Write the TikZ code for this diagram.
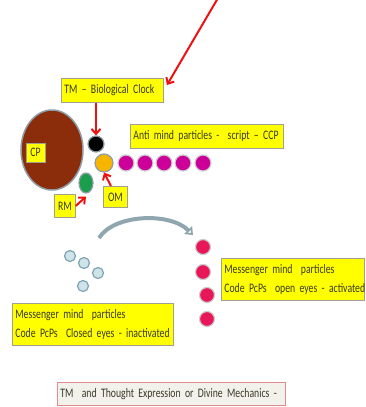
\documentclass[tikz,border=0pt]{standalone}
\usepackage{fontspec}
\setmainfont{Carlito}[FakeStretch=0.75]
\usetikzlibrary{arrows.meta,shapes.geometric}
\newcommand\myboxfontA{\fontsize{13}{15}\selectfont\spaceskip 2.2pt plus 1pt minus 0.5pt\relax}
\newcommand\myboxfontB{\fontsize{13}{19}\selectfont\spaceskip 2.2pt plus 1pt minus 0.5pt\relax}
\definecolor{boxy}{HTML}{FFFF00}
\definecolor{boxline}{HTML}{A0A090}
\definecolor{txt}{HTML}{3A3A28}
\definecolor{redar}{HTML}{EE1111}
\definecolor{cpbrown}{HTML}{8B2C0A}
\definecolor{ringgray}{HTML}{8E9CA6}
\definecolor{magen}{HTML}{CC0099}
\definecolor{crim}{HTML}{E8175A}
\definecolor{lblue}{HTML}{CFE3EA}
\definecolor{lblueline}{HTML}{7FA3B0}
\definecolor{curvegray}{HTML}{8FA6AF}
\definecolor{orng}{HTML}{F7B500}
\definecolor{grn}{HTML}{1A9E4E}
\definecolor{beige}{HTML}{F3F1EC}
\definecolor{pinkline}{HTML}{E08C8C}
\tikzset{
  ybox/.style={draw=boxline, line width=0.8pt, fill=boxy, text=txt, anchor=north west,
    inner xsep=3pt, inner ysep=2pt, align=left, font=\myboxfontA},
  ybox2/.style={ybox, font=\myboxfontB},
  redarrow/.style={draw=redar, line width=2pt, -{Straight Barb[length=5pt,width=9pt]}},
  ball/.style={circle, draw=ringgray, line width=1.2pt, inner sep=0pt, minimum size=#1},
}
\begin{document}
\begin{tikzpicture}[x=1pt,y=-1pt]
\useasboundingbox (0,0) rectangle (365,407);
% CP
\node[ellipse, draw=ringgray, line width=1.5pt, fill=cpbrown, minimum width=62pt, minimum height=80pt, inner sep=0pt] (cp) at (52,150) {};
\node[ybox, anchor=center, minimum width=19pt, minimum height=19pt, inner xsep=1pt] (cpl) at (35.5,152.5) {CP};
% small particles
\node[ball=16pt, fill=black] (bk) at (96,144) {};
\node[ball=18pt, fill=orng] (org) at (104,163) {};
\node[ellipse, draw=ringgray, line width=1.2pt, fill=grn, minimum width=14pt, minimum height=20pt, inner sep=0pt] (gr) at (86,183) {};
% magenta row
\foreach \i/\x in {1/126,2/145,3/164,4/183,5/203}
  \node[ball=16pt, fill=magen, draw=gray!40] (m\i) at (\x,163) {};
% labels
\node[ybox, minimum width=102pt, minimum height=24pt, text width=96pt] (tm) at (61,78) {\mbox{TM – Biological Clock}};
\node[ybox, minimum width=153pt, minimum height=24pt, text width=147pt] (anti) at (130,124) {\mbox{Anti mind particles -\hspace{4pt} script – CCP}};
\node[ybox, minimum width=24pt, minimum height=21pt, inner xsep=1pt, align=center] (om) at (103,186) {OM};
\node[ybox, minimum width=21pt, minimum height=23pt, inner xsep=1pt, align=center] (rm) at (54,194) {RM};
% red arrows
\coordinate (topstart) at (218,-2);
\coordinate (toptip) at (167,85);
\draw[redarrow] (topstart) -- (toptip);
\draw[redarrow] (tm.south -| bk) -- (bk.north);
\draw[redarrow] ([xshift=8pt]om.north west) -- (org.south);
\draw[redarrow] (rm.east) -- ([yshift=-3pt]gr.south);
% light blue particles
\foreach \i/\x/\y in {1/70/256,2/84/263,3/98/273,4/83/286}
  \node[circle, draw=lblueline, line width=1.2pt, fill=lblue, minimum size=11pt, inner sep=0pt] (b\i) at (\x,\y) {};
% crimson particles
\foreach \i/\x/\y in {1/203/247,2/203/272,3/207/295,4/207/319}
  \node[ball=15pt, fill=crim, draw=gray!40] (c\i) at (\x,\y) {};
% curved arrow
\coordinate (cvs) at (99,238);
\coordinate (cve) at (193,235);
\draw[curvegray, line width=4pt, -{Triangle[open, length=7pt, width=11pt]}] (cvs) .. controls (114,214) and (170,212) .. (cve);
% messenger boxes
\node[ybox2, minimum width=143pt, minimum height=42pt, text width=137pt] (rbox) at (221,258) {\mbox{Messenger mind\hspace{4pt} particles}\\\mbox{Code PcPs\hspace{4pt} open eyes - activated}};
\node[ybox2, minimum width=161pt, minimum height=42pt, text width=155pt] (lbox) at (12,303) {\mbox{Messenger mind\hspace{4pt} particles}\\\mbox{Code PcPs\hspace{4pt} Closed eyes - inactivated}};
% bottom caption
\node[ybox, fill=beige, draw=pinkline, minimum width=228pt, minimum height=23pt, text width=222pt] (cap) at (57,382) {\mbox{TM\hspace{4pt} and Thought Expression or Divine Mechanics -}};
\end{tikzpicture}
\end{document}
